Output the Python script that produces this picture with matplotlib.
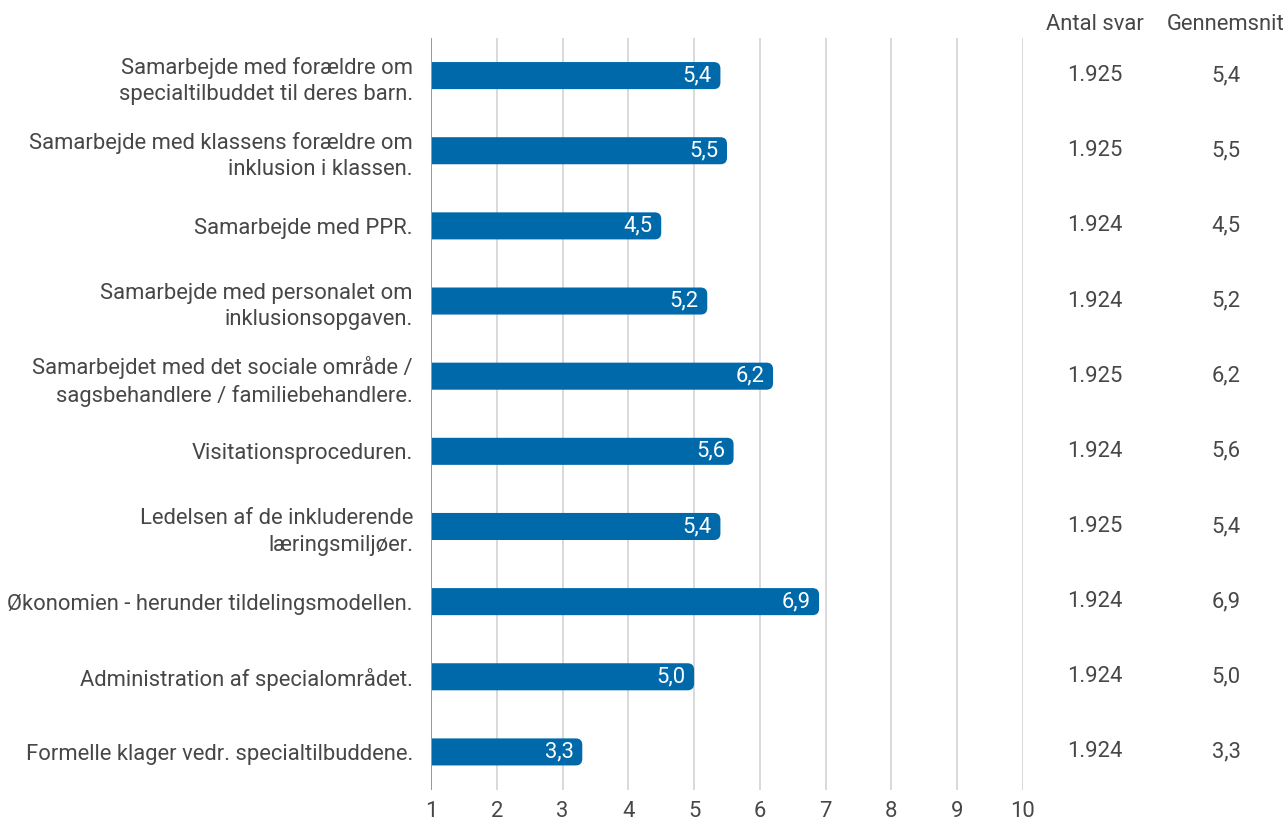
import matplotlib
matplotlib.use('Agg')
import matplotlib.pyplot as plt
from matplotlib.patches import FancyBboxPatch
from matplotlib.transforms import blended_transform_factory

plt.rcParams['font.family'] = ['Roboto', 'DejaVu Sans']

categories = [
    'Samarbejde med forældre om\nspecialtilbuddet til deres barn.',
    'Samarbejde med klassens forældre om\ninklusion i klassen.',
    'Samarbejde med PPR.',
    'Samarbejde med personalet om\ninklusionsopgaven.',
    'Samarbejdet med det sociale område /\nsagsbehandlere / familiebehandlere.',
    'Visitationsproceduren.',
    'Ledelsen af de inkluderende\nlæringsmiljøer.',
    'Økonomien - herunder tildelingsmodellen.',
    'Administration af specialområdet.',
    'Formelle klager vedr. specialtilbuddene.',
]
averages = [5.4, 5.5, 4.5, 5.2, 6.2, 5.6, 5.4, 6.9, 5.0, 3.3]
n_answers = ['1.925', '1.925', '1.924', '1.924', '1.925', '1.924', '1.925', '1.924', '1.924', '1.924']
x_ticks = [1, 2, 3, 4, 5, 6, 7, 8, 9, 10]

BAR = '#0069aa'
TXT = '#474747'
FS = 15.8

def komma(v):
    return f'{v:.1f}'.replace('.', ',')

fig = plt.figure(figsize=(12.88, 8.21), dpi=100)
ax = fig.add_axes([431 / 1288, 1 - 789.5 / 821, (1023 - 431) / 1288, (789.5 - 38) / 821])

ypos = list(range(len(categories)))
bar_h = 0.36
bars = ax.barh(ypos, [v - 1 for v in averages], left=1, height=bar_h, color=BAR, zorder=3)

# rounded right ends: replace each bar by a rounded patch that starts left of the
# axis, so the left-hand rounding gets clipped away
aspect = (1 / 75.15) / (1 / 65.8)
ext = 0.3
for b in bars:
    x0, y0, w, h = b.get_x(), b.get_y(), b.get_width(), b.get_height()
    b.set_visible(False)
    ax.add_patch(FancyBboxPatch((x0 - ext, y0), w + ext, h,
                                boxstyle='round,pad=0,rounding_size=0.1',
                                mutation_aspect=aspect, fc=BAR, ec='none', zorder=3))

for y, v in zip(ypos, averages):
    ax.text(v - 0.13, y, komma(v), ha='right', va='center', color='white',
            fontsize=FS, zorder=4)

ax.set_xlim(1, 10)
ax.set_ylim(len(categories) - 0.5, -0.5)
ax.set_xticks(x_ticks)
ax.set_xticklabels([str(t) for t in x_ticks])
ax.set_yticks(ypos)
ax.set_yticklabels(categories, fontsize=FS, color=TXT, linespacing=1.35)
ax.tick_params(axis='y', length=0, pad=13)
ax.tick_params(axis='x', length=0, pad=8, labelsize=FS, labelcolor=TXT)
ax.grid(axis='x', color='#d0d0d0', lw=1.1, zorder=0)
for s in ax.spines.values():
    s.set_visible(False)
ax.axvline(1, color='#9a9a9a', lw=1.4, zorder=4)

# table columns to the right
tr = blended_transform_factory(fig.transFigure, ax.transData)
col1, col2 = 1095 / 1288, 1226 / 1288
fig.text(col1, 1 - 25 / 821, 'Antal svar', ha='center', va='center', fontsize=FS, color=TXT)
fig.text(col2, 1 - 25 / 821, 'Gennemsnit', ha='center', va='center', fontsize=FS, color=TXT)
for y, n, v in zip(ypos, n_answers, averages):
    ax.text(col1, y, n, transform=tr, ha='center', va='center', fontsize=FS, color=TXT)
    ax.text(col2, y, komma(v), transform=tr, ha='center', va='center', fontsize=FS, color=TXT)

fig.savefig('out.png', dpi=100, facecolor='white')
